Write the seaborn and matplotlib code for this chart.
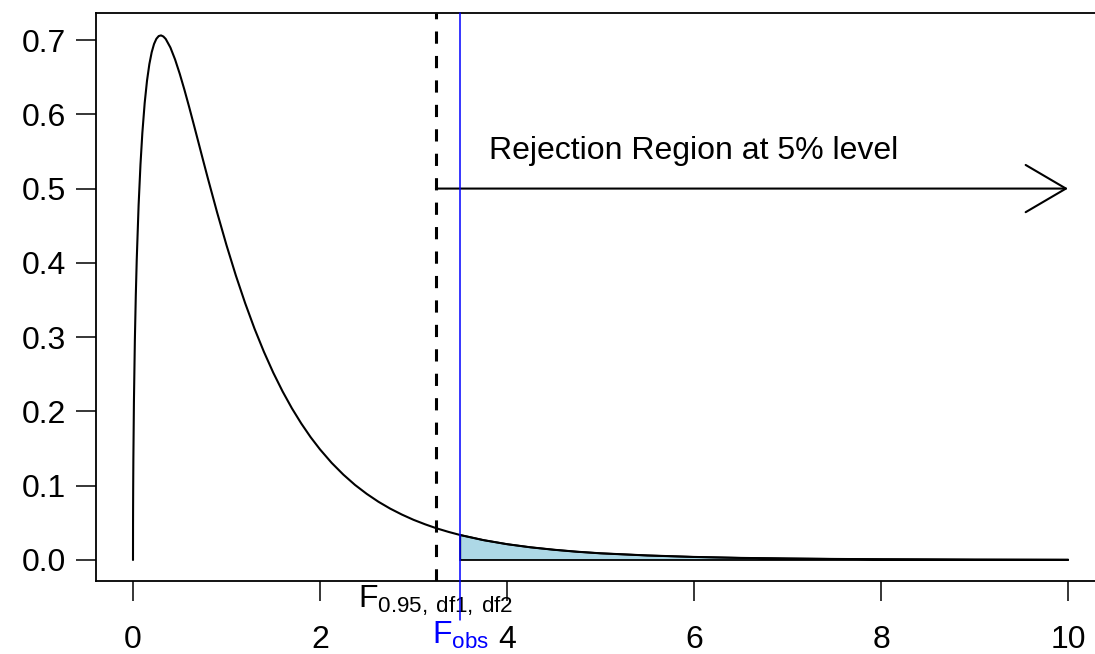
import numpy as np
import matplotlib
matplotlib.use("Agg")
import matplotlib.pyplot as plt
import seaborn as sns

# density curve (F density, df1=3, df2=16)
x_grid = [0.0, 0.0005, 0.001, 0.002, 0.004, 0.01, 0.02, 0.03, 0.04, 0.06, 0.08,
          0.1, 0.125, 0.15, 0.175, 0.2, 0.225, 0.25, 0.275, 0.3, 0.325, 0.35,
          0.4, 0.45, 0.5, 0.55, 0.6, 0.65, 0.7, 0.75, 0.8, 0.9, 1.0, 1.1, 1.2,
          1.3, 1.4, 1.5, 1.6, 1.7, 1.8, 1.9, 2.0, 2.125, 2.25, 2.375, 2.5,
          2.625, 2.75, 2.875, 3.0, 3.125, 3.25, 3.375, 3.5, 3.75, 4.0, 4.25,
          4.5, 4.75, 5.0, 5.5, 6.0, 6.5, 7.0, 7.5, 8.0, 9.0, 10.0]
density = [0.0, 0.0485, 0.0685, 0.0966, 0.1362, 0.2130, 0.2960, 0.3561, 0.4040,
           0.4776, 0.5324, 0.5748, 0.6152, 0.6453, 0.6675, 0.6835, 0.6946,
           0.7016, 0.7053, 0.7062, 0.7047, 0.7014, 0.6899, 0.6738, 0.6545,
           0.6330, 0.6101, 0.5863, 0.5622, 0.5380, 0.5141, 0.4677, 0.4238,
           0.3830, 0.3456, 0.3113, 0.2803, 0.2522, 0.2269, 0.2041, 0.1837,
           0.1653, 0.1489, 0.1307, 0.1149, 0.1010, 0.0890, 0.0784, 0.0692,
           0.0612, 0.0541, 0.0480, 0.0425, 0.0378, 0.0336, 0.0267, 0.0213,
           0.0171, 0.0138, 0.0111, 0.0090, 0.0061, 0.0041, 0.0028, 0.0020,
           0.0014, 0.0010, 0.0005, 0.0003]

f_crit = 3.24        # F_0.95, df1, df2
f_obs = 3.5          # observed F
arrow_level = 0.5
reject_label = "Rejection Region at 5% level"
label_pos = (6.0, 0.55)

x_ticks = [0, 2, 4, 6, 8, 10]
y_ticks = [0.0, 0.1, 0.2, 0.3, 0.4, 0.5, 0.6, 0.7]

sns.set_style("ticks")
plt.rcParams['font.family'] = ['Liberation Sans', 'DejaVu Sans']
plt.rcParams['mathtext.fontset'] = 'custom'
plt.rcParams['mathtext.rm'] = 'Liberation Sans'
for key in ['text.color', 'axes.labelcolor', 'xtick.color', 'ytick.color', 'axes.edgecolor']:
    plt.rcParams[key] = 'black'

fig = plt.figure(figsize=(10.95, 6.54), dpi=100)
ax = fig.add_axes([0.0873, 0.1116, 0.9222, 0.8679])

x = np.array(x_grid)
y = np.array(density)

# shaded tail beyond the observed F
tail = x >= f_obs
px = np.concatenate([[f_obs], x[tail], [x[tail][-1]]])
py = np.concatenate([[0.0], y[tail], [0.0]])
ax.fill(px, py, facecolor='lightblue', edgecolor='black', lw=1.3, zorder=2)

sns.lineplot(x=x, y=y, color='black', lw=1.5, ax=ax, zorder=3)

ymin, ymax = -0.0283, 0.7358
ax.axvline(f_crit, color='black', lw=2.2, linestyle=(0, (4, 4)), zorder=3)
ax.plot([f_obs, f_obs], [-0.081, ymax], color='blue', lw=1.1, clip_on=False, zorder=4)

ax.annotate("", xy=(x_grid[-1], arrow_level), xytext=(f_crit, arrow_level),
            arrowprops=dict(arrowstyle="->,head_length=2.9,head_width=1.7",
                            lw=1.5, color='black', shrinkA=0, shrinkB=0))
ax.text(label_pos[0], label_pos[1], reject_label, fontsize=23, ha='center', va='center')

ax.text(f_crit, -0.0646, r"$\mathregular{F_{0.95,\,df1,\,df2}}$", fontsize=23,
        ha='center', va='baseline', clip_on=False)
ax.text(f_obs, -0.1131, r"$\mathregular{F_{obs}}$", fontsize=23, color='blue',
        ha='center', va='baseline', clip_on=False)

ax.set_xlim(-0.4, 10.4)
ax.set_ylim(ymin, ymax)
ax.set_xticks(x_ticks)
ax.set_yticks(y_ticks)
ax.set_yticklabels([f"{v:.1f}" for v in y_ticks])
ax.tick_params(axis='both', length=14.4, width=1.1, labelsize=23, direction='out')
ax.tick_params(axis='x', pad=17)
ax.tick_params(axis='y', pad=7)
for s in ax.spines.values():
    s.set_linewidth(1.3)
    s.set_color('black')
ax.set_xlabel("")
ax.set_ylabel("")

fig.savefig("out.png", dpi=100)
